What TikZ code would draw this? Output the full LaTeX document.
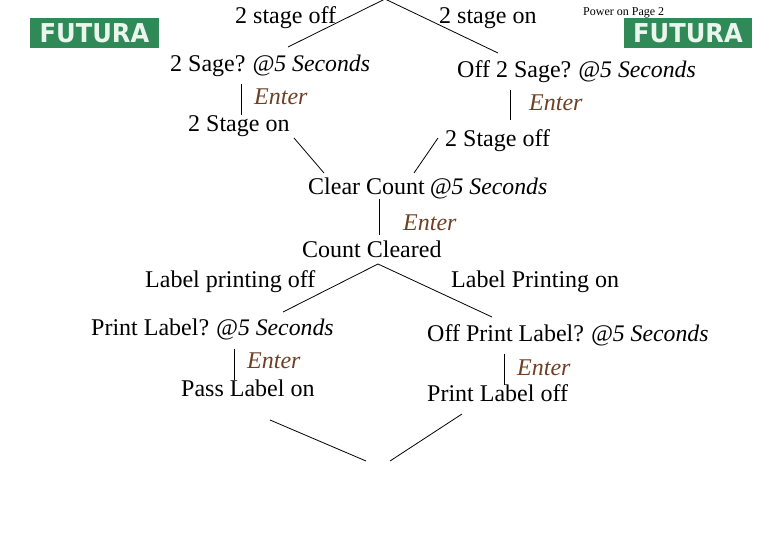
\documentclass[tikz,border=0pt]{standalone}
\usepackage{fontspec}
\setmainfont{Liberation Serif}
\newfontfamily\logofont{DejaVu Sans}
\definecolor{enterbrown}{HTML}{6E3F24}
\definecolor{logogreen}{HTML}{2F8A57}
\definecolor{logotext}{HTML}{EAF5EE}
\tikzset{
  x=1pt,y=-1pt,
  lbl/.style={anchor=base west,inner sep=0pt,font=\fontsize{24}{24}\selectfont},
  enterlbl/.style={lbl,text=enterbrown,font=\fontsize{24}{24}\selectfont\itshape},
  smalllbl/.style={anchor=base west,inner sep=0pt,font=\fontsize{12}{12}\selectfont},
  logobox/.style={fill=logogreen,minimum width=128.5pt,minimum height=30pt,inner sep=0pt,text=logotext,
    font=\logofont\bfseries\fontsize{26}{26}\selectfont},
  wire/.style={draw=black,line width=0.8pt}
}
\newcommand{\secs}{\hspace{-1pt}{\fontsize{23.75}{24}\selectfont\itshape @5 Seconds}}
\newcommand{\logotxt}{\scalebox{.93}[1]{FUTURA}}
\begin{document}
\begin{tikzpicture}
\useasboundingbox (0,0) rectangle (780,540);
% logos
\node[logobox] (logoL) at (94.5,33) {\logotxt};
\node[logobox] (logoR) at (688,33) {\logotxt};
% texts
\node[lbl] (off) at (235,24) {2 stage off};
\node[lbl] (on) at (439,24) {2 stage on};
\node[smalllbl] (power) at (583,16) {Power on Page 2};
\node[lbl] (sage) at (170,72) {2 Sage? \secs};
\node[enterlbl] (e1) at (254,105) {Enter};
\node[lbl] (stageon) at (188,132) {2 Stage on};
\node[lbl] (offsage) at (457,78) {Off 2 Sage? \secs};
\node[enterlbl] (e2) at (529,111) {Enter};
\node[lbl] (stageoff) at (445,147) {2 Stage off};
\node[lbl] (clear) at (308,195) {Clear Count \secs};
\node[enterlbl] (e3) at (403,231) {Enter};
\node[lbl] (cleared) at (302,258) {Count Cleared};
\node[lbl] (lpoff) at (145,288) {Label printing off};
\node[lbl] (lpon) at (451,288) {Label Printing on};
\node[lbl] (print) at (91,336) {Print Label? \secs};
\node[enterlbl] (e4) at (247,369) {Enter};
\node[lbl] (pass) at (181,396) {Pass Label on};
\node[lbl] (offprint) at (427,342) {Off Print Label? \secs};
\node[enterlbl] (e5) at (517,375) {Enter};
\node[lbl] (printoff) at (427,402) {Print Label off};
% connector ends
\coordinate (top) at (385,-1);
\coordinate (a1) at (288,47);
\coordinate (a2) at (498,53);
\coordinate (b1) at (241,84);
\coordinate (b2) at (241,115);
\coordinate (c1) at (510.5,90);
\coordinate (c2) at (510.5,120);
\coordinate (d1) at (294,138);
\coordinate (d2) at (324,173);
\coordinate (f1) at (438,138);
\coordinate (f2) at (414,173);
\coordinate (g1) at (379,199);
\coordinate (g2) at (379,235);
\coordinate (apex) at (378,264);
\coordinate (h1) at (283,312);
\coordinate (h2) at (492,317);
\coordinate (i1) at (234.5,349);
\coordinate (i2) at (234.5,380);
\coordinate (j1) at (504.5,354);
\coordinate (j2) at (504.5,385);
\coordinate (k1) at (270,420);
\coordinate (k2) at (366,461);
\coordinate (l1) at (462,414);
\coordinate (l2) at (390,461);
\draw[wire] (a1) -- (top) -- (a2);
\draw[wire] (b1) -- (b2);
\draw[wire] (c1) -- (c2);
\draw[wire] (d1) -- (d2);
\draw[wire] (f1) -- (f2);
\draw[wire] (g1) -- (g2);
\draw[wire] (h1) -- (apex) -- (h2);
\draw[wire] (i1) -- (i2);
\draw[wire] (j1) -- (j2);
\draw[wire] (k1) -- (k2);
\draw[wire] (l1) -- (l2);
\end{tikzpicture}
\end{document}
